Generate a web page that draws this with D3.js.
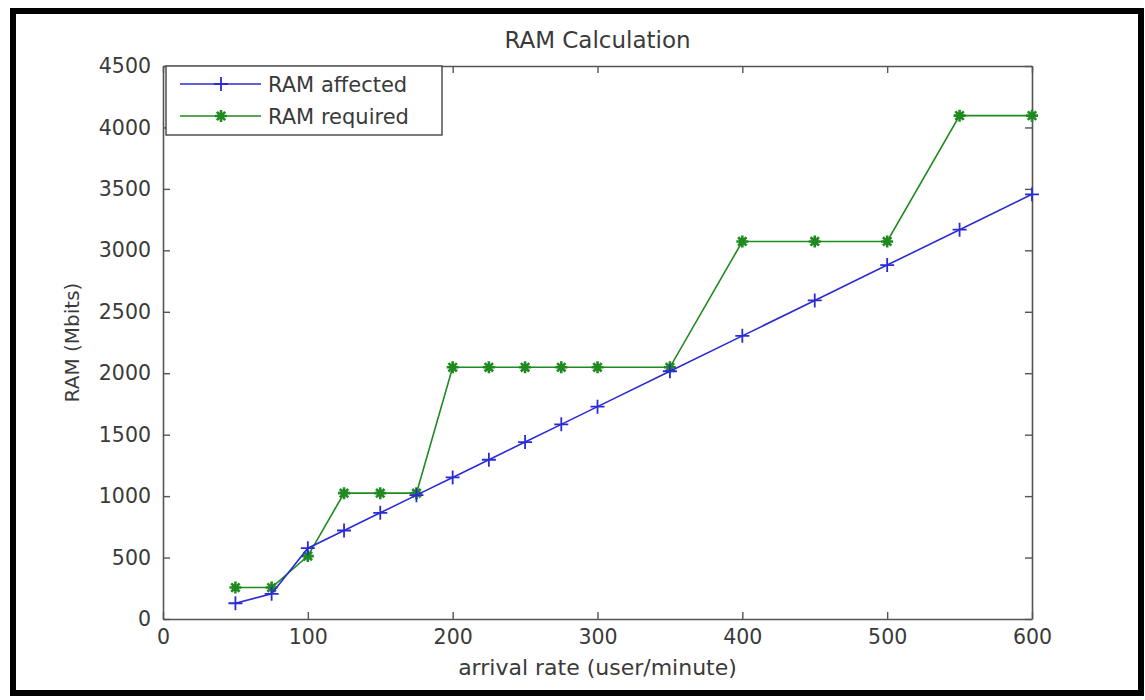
<!DOCTYPE html>
<html>
<head>
<meta charset="utf-8">
<script src="https://cdn.jsdelivr.net/npm/d3@7"></script>
<style>
  body { margin: 0; background: #fff; }
  svg text { font-family: "DejaVu Sans", sans-serif; fill: #3a3a3a; }
</style>
</head>
<body>
<svg width="1145" height="700"></svg>
<script>
// arrival rate (user/minute)
const arrivalRate = [50, 75, 100, 125, 150, 175, 200, 225, 250, 275, 300, 350, 400, 450, 500, 550, 600];
const ramAffected = [128, 205, 576, 720, 864, 1008, 1152, 1296, 1440, 1584, 1728, 2016, 2304, 2592, 2880, 3168, 3456];
const ramRequired = [256, 256, 512, 1024, 1024, 1024, 2048, 2048, 2048, 2048, 2048, 2048, 3072, 3072, 3072, 4096, 4096];
const xTicks = [0, 100, 200, 300, 400, 500, 600];
const yTicks = [0, 500, 1000, 1500, 2000, 2500, 3000, 3500, 4000, 4500];

const svg = d3.select("svg");

const plotLeft = 163, plotRight = 1032, plotTop = 66, plotBottom = 619;
const axisColor = "#555";
const tickFont = 20.5;

// outer frame
svg.append("rect")
	.attr("x", 13).attr("y", 11)
	.attr("width", 1128).attr("height", 682)
	.attr("fill", "none")
	.attr("stroke", "#000")
	.attr("stroke-width", 6);

const x = d3.scaleLinear().domain([0, 600]).range([plotLeft, plotRight]);
const y = d3.scaleLinear().domain([0, 4500]).range([plotBottom, plotTop]);

// axes, matlab style: ticks inward on all four sides
function styleAxis(g) {
	g.attr("font-family", null);
	g.select(".domain").attr("stroke", axisColor).attr("stroke-width", 1.6);
	g.selectAll(".tick line").attr("stroke", axisColor).attr("stroke-width", 1.4);
	g.selectAll(".tick text").attr("font-size", tickFont).attr("fill", "#3a3a3a");
}

svg.append("g")
	.attr("transform", `translate(0, ${plotBottom})`)
	.call(d3.axisBottom(x).tickValues(xTicks).tickFormat(d3.format("d")).tickSizeInner(-7).tickSizeOuter(0).tickPadding(10))
	.call(styleAxis);

svg.append("g")
	.attr("transform", `translate(0, ${plotTop})`)
	.call(d3.axisTop(x).tickValues(xTicks).tickSizeInner(-7).tickSizeOuter(0).tickFormat(""))
	.call(styleAxis);

svg.append("g")
	.attr("transform", `translate(${plotLeft}, 0)`)
	.call(d3.axisLeft(y).tickValues(yTicks).tickFormat(d3.format("d")).tickSizeInner(-7).tickSizeOuter(0).tickPadding(12))
	.call(styleAxis);

svg.append("g")
	.attr("transform", `translate(${plotRight}, 0)`)
	.call(d3.axisRight(y).tickValues(yTicks).tickSizeInner(-7).tickSizeOuter(0).tickFormat(""))
	.call(styleAxis);

// titles
svg.append("text")
	.attr("x", (plotLeft + plotRight) / 2).attr("y", 48)
	.attr("text-anchor", "middle")
	.attr("font-size", 23)
	.text("RAM Calculation");

svg.append("text")
	.attr("x", (plotLeft + plotRight) / 2).attr("y", 675)
	.attr("text-anchor", "middle")
	.attr("font-size", 22)
	.text("arrival rate (user/minute)");

svg.append("text")
	.attr("transform", `translate(79, ${(plotTop + plotBottom) / 2}) rotate(-90)`)
	.attr("text-anchor", "middle")
	.attr("font-size", 20)
	.text("RAM (Mbits)");

// series
const blue = "#2b2bd6";
const green = "#1f8a1f";

const line = d3.line()
	.x(d => x(d[0]))
	.y(d => y(d[1]));

const plusPath = s => `M${-s},0H${s}M0,${-s}V${s}`;
const starPath = s => `M${-s},0H${s}M0,${-s}V${s}M${-s * 0.7},${-s * 0.7}L${s * 0.7},${s * 0.7}M${-s * 0.7},${s * 0.7}L${s * 0.7},${-s * 0.7}`;

function drawSeries(values, color, marker, markerWidth) {
	const pts = arrivalRate.map((r, i) => [r, values[i]]);
	const g = svg.append("g");
	g.append("path")
		.attr("d", line(pts))
		.attr("fill", "none")
		.attr("stroke", color)
		.attr("stroke-width", 1.6);
	g.selectAll("path.m")
		.data(pts)
		.join("path")
			.attr("class", "m")
			.attr("transform", d => `translate(${x(d[0])}, ${y(d[1])})`)
			.attr("d", marker)
			.attr("stroke", color)
			.attr("stroke-width", markerWidth)
			.attr("fill", "none");
}

drawSeries(ramRequired, green, starPath(6), 2.6);
drawSeries(ramAffected, blue, plusPath(7), 1.8);

// legend
const legend = svg.append("g");
legend.append("rect")
	.attr("x", 166).attr("y", 66)
	.attr("width", 276).attr("height", 69)
	.attr("fill", "#fff")
	.attr("stroke", "#444")
	.attr("stroke-width", 1.4);

const legendItems = [
	{ label: "RAM affected", color: blue, marker: plusPath(7), w: 1.8 },
	{ label: "RAM required", color: green, marker: starPath(6), w: 2.6 }
];

legendItems.forEach((d, i) => {
	const ly = 84 + i * 32;
	legend.append("line")
		.attr("x1", 180).attr("x2", 261)
		.attr("y1", ly).attr("y2", ly)
		.attr("stroke", d.color)
		.attr("stroke-width", 1.6);
	legend.append("path")
		.attr("transform", `translate(221, ${ly})`)
		.attr("d", d.marker)
		.attr("stroke", d.color)
		.attr("stroke-width", d.w)
		.attr("fill", "none");
	legend.append("text")
		.attr("x", 268).attr("y", ly + 8)
		.attr("font-size", 21)
		.text(d.label);
});
</script>
</body>
</html>
